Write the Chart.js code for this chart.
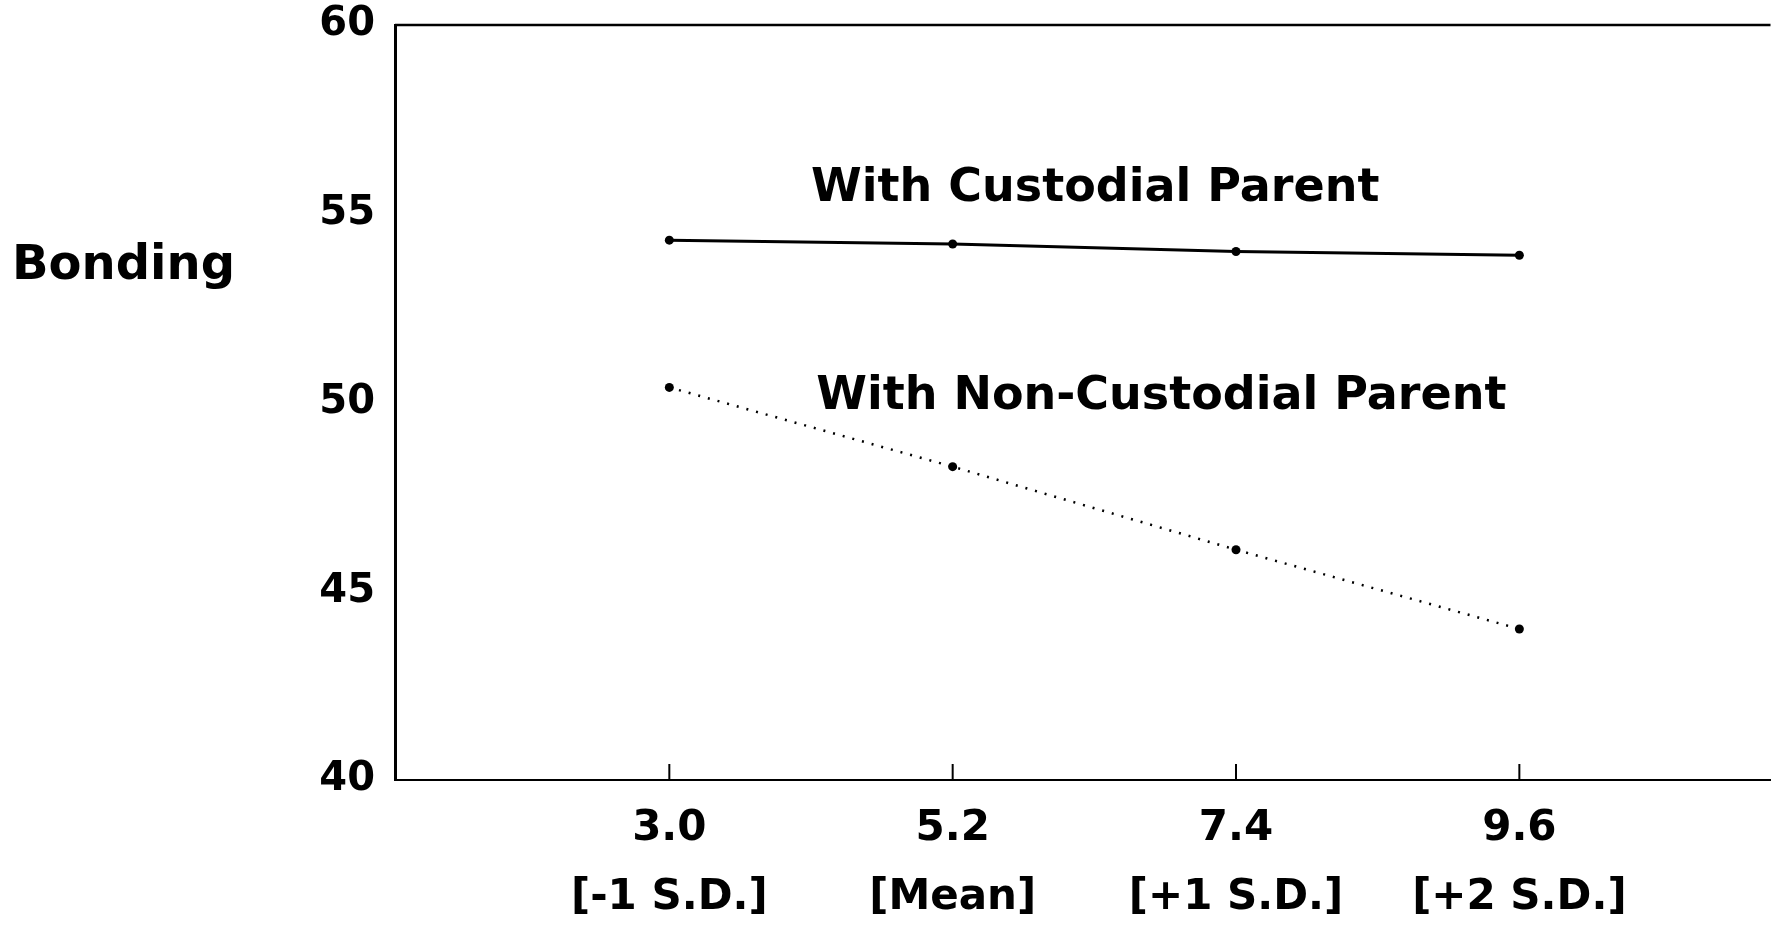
<!DOCTYPE html>
<html>
<head>
<meta charset="utf-8">
<script src="https://cdn.jsdelivr.net/npm/chart.js@4"></script>
<style>
  html, body { margin: 0; padding: 0; background: #fff; }
  #wrap { width: 1775px; height: 926px; }
</style>
</head>
<body>
<div id="wrap"><canvas id="graf"></canvas></div>
<script>
var xValues = [3.0, 5.2, 7.4, 9.6];
var sdLabels = ['[-1 S.D.]', '[Mean]', '[+1 S.D.]', '[+2 S.D.]'];
var yTicks = [40, 45, 50, 55, 60];
var custodial = [54.3, 54.2, 54.0, 53.9];
var nonCustodial = [50.4, 48.3, 46.1, 44.0];
var seriesNames = ['With Custodial Parent', 'With Non-Custodial Parent'];
var yTitle = 'Bonding';

var FONT = '"DejaVu Sans", "Liberation Sans", Arial, sans-serif';

function pts(ys) {
    return xValues.map(function (x, i) { return { x: x, y: ys[i] }; });
}

// frame top line, inward x ticks and the free text
var extras = {
    id: 'extras',
    afterDraw: function (chart) {
        var c = chart.ctx, a = chart.chartArea;
        var xs = chart.scales.x, ys = chart.scales.y;
        c.save();
        c.strokeStyle = '#000';
        c.lineWidth = 2.5;
        c.beginPath();
        c.moveTo(a.left, a.top);
        c.lineTo(a.right, a.top);
        c.stroke();
        c.lineWidth = 2;
        xValues.forEach(function (v) {
            var px = xs.getPixelForValue(v);
            c.beginPath();
            c.moveTo(px, a.bottom);
            c.lineTo(px, a.bottom - 16);
            c.stroke();
        });
        c.fillStyle = '#000';
        c.textBaseline = 'middle';
        c.textAlign = 'left';
        c.font = 'bold 46px ' + FONT;
        c.fillText(seriesNames[0], xs.getPixelForValue(4.1), ys.getPixelForValue(55.65));
        c.fillText(seriesNames[1], xs.getPixelForValue(4.14), ys.getPixelForValue(50.15));
        c.font = 'bold 48px ' + FONT;
        c.fillText(yTitle, 12, ys.getPixelForValue(53.6));
        c.restore();
    }
};

var ctx = document.getElementById('graf').getContext('2d');
var graf = new Chart(ctx, {
    type: 'line',
    data: {
        datasets: [{
            label: seriesNames[0],
            data: pts(custodial),
            borderColor: '#000',
            backgroundColor: '#000',
            borderWidth: 3,
            pointRadius: 4.5,
            pointBorderWidth: 0,
            tension: 0
        }, {
            label: seriesNames[1],
            data: pts(nonCustodial),
            borderColor: '#000',
            backgroundColor: '#000',
            borderWidth: 2.5,
            borderDash: [2, 8],
            pointRadius: 4.5,
            pointBorderWidth: 0,
            tension: 0
        }]
    },
    options: {
        responsive: true,
        maintainAspectRatio: false,
        animation: false,
        layout: { padding: { top: 0, right: 0, left: 0, bottom: 0 } },
        plugins: {
            legend: { display: false },
            tooltip: { enabled: false }
        },
        scales: {
            x: {
                type: 'linear',
                min: 0.87,
                max: 11.55,
                afterBuildTicks: function (s) {
                    s.ticks = xValues.map(function (v) { return { value: v }; });
                },
                afterFit: function (s) { s.height = 146; },
                grid: { display: false, drawTicks: false },
                border: { display: true, color: '#000', width: 2 },
                ticks: {
                    color: '#000',
                    padding: 14,
                    maxRotation: 0,
                    autoSkip: false,
                    font: { family: FONT, size: 42, weight: 'bold', lineHeight: 1.65 },
                    callback: function (value, index) {
                        return [Number(value).toFixed(1), sdLabels[index]];
                    }
                }
            },
            y: {
                min: 40,
                max: 60,
                afterBuildTicks: function (s) {
                    s.ticks = yTicks.map(function (v) { return { value: v }; });
                },
                afterFit: function (s) { s.width = 395; },
                grid: { display: false, drawTicks: false },
                border: { display: true, color: '#000', width: 3 },
                ticks: {
                    color: '#000',
                    padding: 20,
                    font: { family: FONT, size: 40, weight: 'bold', lineHeight: 0.25 }
                }
            }
        }
    },
    plugins: [extras]
});
</script>
</body>
</html>
